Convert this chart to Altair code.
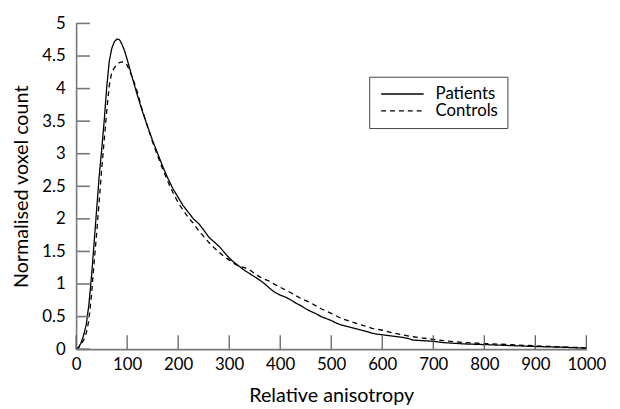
import altair as alt
import pandas as pd

# ---- data ----
patients_x = [0, 5, 10, 15, 20, 25, 30, 35, 40, 45, 50, 55, 60, 65, 70, 75, 80, 85, 90, 95,
              100, 110, 120, 130, 140, 150, 160, 170, 180, 190, 200, 210, 220, 230, 240, 250,
              260, 270, 280, 290, 300, 310, 320, 330, 340, 350, 360, 370, 380, 390, 400, 410,
              420, 430, 440, 450, 460, 470, 480, 490, 500, 510, 520, 530, 540, 550, 560, 570,
              580, 590, 600, 620, 640, 650, 660, 680, 700, 720, 740, 760, 780, 800, 850, 900,
              950, 1000]
patients_y = [0, 0.03, 0.1, 0.22, 0.38, 0.68, 1.1, 1.6, 2.12, 2.63, 3.05, 3.5, 4.02, 4.42, 4.62,
              4.72, 4.76, 4.75, 4.68, 4.58, 4.45, 4.17, 3.9, 3.65, 3.42, 3.2, 3.0, 2.8, 2.62,
              2.46, 2.33, 2.2, 2.1, 2.0, 1.93, 1.83, 1.72, 1.65, 1.58, 1.49, 1.40, 1.33, 1.27,
              1.21, 1.16, 1.11, 1.06, 1.0, 0.93, 0.87, 0.83, 0.80, 0.76, 0.71, 0.67, 0.62, 0.58,
              0.545, 0.50, 0.47, 0.44, 0.40, 0.37, 0.35, 0.33, 0.31, 0.29, 0.27, 0.245, 0.23,
              0.22, 0.20, 0.18, 0.165, 0.14, 0.13, 0.12, 0.10, 0.09, 0.08, 0.075, 0.07, 0.055,
              0.04, 0.03, 0.015]

controls_x = [0, 5, 10, 15, 20, 25, 30, 35, 40, 45, 50, 55, 60, 65, 70, 75, 80, 85, 90, 95,
              100, 110, 120, 130, 140, 150, 160, 170, 180, 190, 200, 210, 220, 230, 240, 250,
              260, 270, 280, 290, 300, 310, 320, 330, 340, 350, 360, 370, 380, 390, 400, 420,
              440, 460, 480, 500, 520, 540, 560, 580, 600, 620, 640, 660, 680, 700, 720, 740,
              760, 780, 800, 850, 900, 950, 1000]
controls_y = [0, 0.02, 0.08, 0.14, 0.25, 0.44, 0.82, 1.3, 1.75, 2.25, 2.75, 3.2, 3.65, 4.05,
              4.25, 4.32, 4.37, 4.40, 4.41, 4.40, 4.36, 4.18, 3.95, 3.66, 3.42, 3.18, 2.96,
              2.76, 2.57, 2.40, 2.25, 2.13, 2.02, 1.93, 1.82, 1.73, 1.64, 1.56, 1.49, 1.42,
              1.37, 1.31, 1.27, 1.25, 1.22, 1.16, 1.11, 1.07, 1.04, 0.99, 0.95, 0.87, 0.78,
              0.71, 0.62, 0.55, 0.47, 0.42, 0.37, 0.32, 0.29, 0.25, 0.22, 0.19, 0.17, 0.15,
              0.13, 0.115, 0.10, 0.095, 0.085, 0.07, 0.05, 0.035, 0.02]

series_names = ["Patients", "Controls"]
x_ticks = [0, 100, 200, 300, 400, 500, 600, 700, 800, 900, 1000]
y_ticks = [0, 0.5, 1, 1.5, 2, 2.5, 3, 3.5, 4, 4.5, 5]

df = pd.concat([
    pd.DataFrame({"x": patients_x, "y": patients_y, "group": series_names[0]}),
    pd.DataFrame({"x": controls_x, "y": controls_y, "group": series_names[1]}),
])
df_xt = pd.DataFrame({"t": x_ticks})
df_yt = pd.DataFrame({"t": y_ticks})

FONT = "Lato"
W, H = 517, 330

xscale = alt.Scale(domain=[0, 1000], nice=False)
yscale = alt.Scale(domain=[0, 5], nice=False)

xaxis = alt.Axis(title="Relative anisotropy", values=x_ticks, ticks=False,
                 format="d", labelOverlap=False, labelFlush=False, labelPadding=8,
                 titleY=53, titleBaseline="alphabetic", grid=False)
yaxis = alt.Axis(title="Normalised voxel count", values=y_ticks, ticks=False,
                 format="~g", labelOverlap=False, labelFlush=False, labelPadding=11,
                 titleX=-49, titleBaseline="alphabetic", grid=False)

# legend symbol: a line running from the symbol's left edge 8 half-sizes to the right
SYM_R = 43 / 8.0

lines = alt.Chart(df).mark_line(color="black", strokeWidth=1.3).encode(
    x=alt.X("x:Q", scale=xscale, axis=xaxis),
    y=alt.Y("y:Q", scale=yscale, axis=yaxis),
    strokeDash=alt.StrokeDash(
        "group:N",
        scale=alt.Scale(domain=series_names, range=[[1, 0], [5, 4]]),
        legend=alt.Legend(title=None, orient="none", legendX=297, legendY=54,
                          symbolType="M-1,0H7", symbolSize=(2 * SYM_R) ** 2,
                          symbolStrokeWidth=1.3, symbolStrokeColor="black",
                          labelFontSize=17, labelFont=FONT, labelColor="black",
                          labelExpr="datum.label + '\u00a0\u00a0'",
                          labelOffset=6 * SYM_R + 9, padding=9,
                          strokeColor="#444", fillColor="white", rowPadding=-2),
    ),
    order=alt.Order("x:Q"),
)

xt = alt.Chart(df_xt).mark_rule(color="#555", strokeWidth=1.2).encode(
    x=alt.X("t:Q", scale=xscale, axis=xaxis), y=alt.value(H), y2=alt.value(H - 14)
)
yt = alt.Chart(df_yt).mark_rule(color="#777", strokeWidth=1.6).encode(
    y=alt.Y("t:Q", scale=yscale, axis=yaxis), x=alt.value(0), x2=alt.value(14)
)

chart = alt.layer(lines, xt, yt).properties(
    width=W, height=H,
    autosize=alt.AutoSizeParams(type="none"),
    padding={"left": 69, "top": 13, "right": 26, "bottom": 58},
).configure_view(stroke=None).configure_axis(
    domainColor="#777", domainWidth=1.6, labelFont=FONT, labelFontSize=17,
    labelColor="black", titleFont=FONT, titleFontSize=20, titleFontWeight="normal",
    titleColor="black",
)

chart.save("out.html", embed_options={"renderer": "svg", "actions": False})
